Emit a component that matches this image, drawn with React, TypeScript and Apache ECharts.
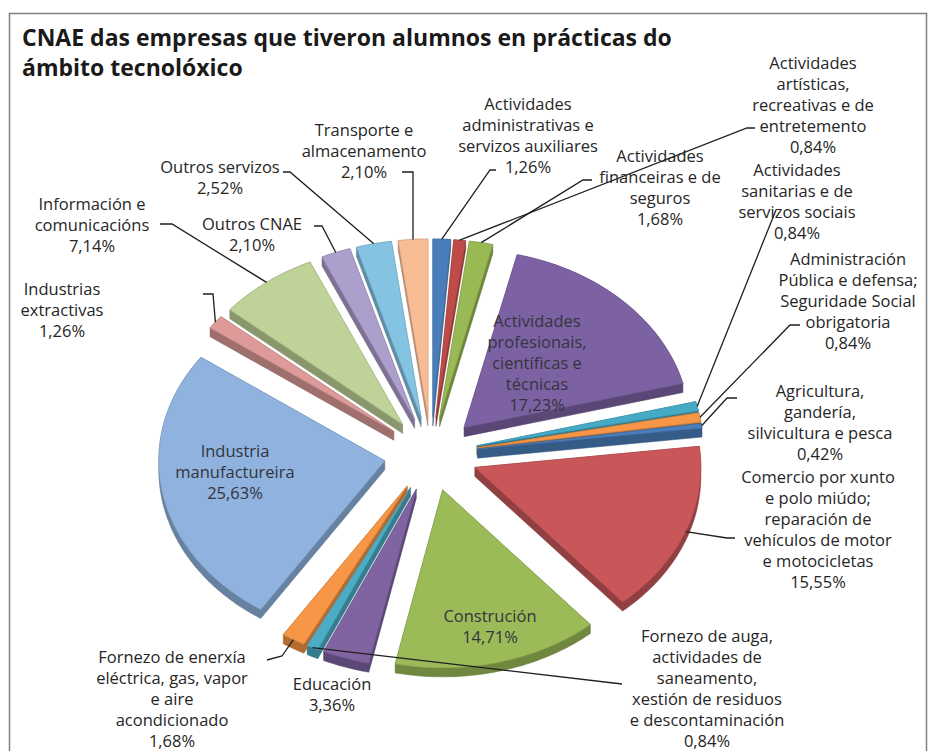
import React, { useEffect, useRef } from "react";
import * as echarts from "echarts";

// ---- data ----
const categories = [
  "Actividades administrativas e servizos auxiliares",
  "Actividades artísticas, recreativas e de entretemento",
  "Actividades financeiras e de seguros",
  "Actividades profesionais, científicas e técnicas",
  "Actividades sanitarias e de servizos sociais",
  "Administración Pública e defensa; Seguridade Social obrigatoria",
  "Agricultura, gandería, silvicultura e pesca",
  "Comercio por xunto e polo miúdo; reparación de vehículos de motor e motocicletas",
  "Construción",
  "Educación",
  "Fornezo de auga, actividades de saneamento, xestión de residuos e descontaminación",
  "Fornezo de enerxía eléctrica, gas, vapor e aire acondicionado",
  "Industria manufactureira",
  "Industrias extractivas",
  "Información e comunicacións",
  "Outros CNAE",
  "Outros servizos",
  "Transporte e almacenamento",
];
const shares = [1.26, 0.84, 1.68, 17.23, 0.84, 0.84, 0.42, 15.55, 14.71, 3.36, 0.84, 1.68, 25.63, 1.26, 7.14, 2.1, 2.52, 2.1];

// ---- styles / layout ----
const colors = [
  "#4a7ebb", "#be4b48", "#98b954", "#7d62a3", "#46aac5", "#f79646",
  "#4a7ebb", "#c9575a", "#9bbb59", "#8064a2", "#4bacc6", "#f79646",
  "#8fb3de", "#dd9a98", "#bfd297", "#ad9fcc", "#84c4e2", "#f9bd96",
];
const labelLines = [
  ["Actividades", "administrativas e", "servizos auxiliares"],
  ["Actividades", "artísticas,", "recreativas e de", "entretemento"],
  ["Actividades", "financeiras e de", "seguros"],
  ["Actividades", "profesionais,", "científicas e", "técnicas"],
  ["Actividades", "sanitarias e de", "servizos sociais"],
  ["Administración", "Pública e defensa;", "Seguridade Social", "obrigatoria"],
  ["Agricultura,", "gandería,", "silvicultura e pesca"],
  ["Comercio por xunto", "e polo miúdo;", "reparación de", "vehículos de motor", "e motocicletas"],
  ["Construción"],
  ["Educación"],
  ["Fornezo de auga,", "actividades de", "saneamento,", "xestión de residuos", "e descontaminación"],
  ["Fornezo de enerxía", "eléctrica, gas, vapor", "e aire", "acondicionado"],
  ["Industria", "manufactureira"],
  ["Industrias", "extractivas"],
  ["Información e", "comunicacións"],
  ["Outros CNAE"],
  ["Outros servizos"],
  ["Transporte e", "almacenamento"],
];
// [center x, first line center y]
const labelPos = [
  [528, 103], [813, 62], [660, 155], [537, 320], [797, 169], [848, 258],
  [820, 390], [818, 476], [490, 615], [332, 683], [707, 635], [172, 656],
  [235, 450], [62, 288], [92, 203], [252, 223], [220, 166], [364, 129],
];
const insideLabel = [false, false, false, true, false, false, false, false, true, false, false, false, true, false, false, false, false, false];
const leaderWaypoints: (number[][] | null)[] = [
  [[490, 170], [496, 170]],
  [[747, 128], [755, 128]],
  [[583, 180], [592, 180]],
  null,
  [[776, 210]],
  [[790, 325], [800, 325]],
  [[727, 398], [737, 398]],
  [[727, 538], [735, 538]],
  null,
  null,
  [[622, 684]],
  [[282, 656], [267, 660]],
  null,
  [[213, 294], [203, 294]],
  [[172, 224], [160, 224]],
  [[322, 226], [314, 226]],
  [[290, 172], [283, 172]],
  [[413, 172], [402, 172]],
];

const CX = 431, CY = 454, RX = 226, RY = 178, EXPLODE = 47, DEPTH = 9;
const K = RY / RX;
const LH = 21;
const FONT = "'Open Sans', 'DejaVu Sans', sans-serif";

const fmt = (v: number) => v.toFixed(2).replace(".", ",") + "%";

function darken(hex: string, f: number) {
  const n = parseInt(hex.slice(1), 16);
  const r = Math.round(((n >> 16) & 255) * f);
  const g = Math.round(((n >> 8) & 255) * f);
  const b = Math.round((n & 255) * f);
  return `rgb(${r},${g},${b})`;
}

function sliceGeom(i: number) {
  const total = shares.reduce((a, b) => a + b, 0);
  let start = 0;
  for (let j = 0; j < i; j++) start += shares[j];
  const a0 = (start / total) * Math.PI * 2;
  const a1 = ((start + shares[i]) / total) * Math.PI * 2;
  const m = (a0 + a1) / 2;
  const tx = CX + EXPLODE * Math.sin(m);
  const ty = CY - EXPLODE * K * Math.cos(m);
  const pts: number[][] = [[tx, ty]];
  const n = Math.max(2, Math.ceil((a1 - a0) / (Math.PI / 180)));
  for (let s = 0; s <= n; s++) {
    const a = a0 + ((a1 - a0) * s) / n;
    pts.push([tx + RX * Math.sin(a), ty - RY * Math.cos(a)]);
  }
  const anchor = [tx + RX * Math.sin(m), ty - RY * Math.cos(m)];
  return { pts, anchor };
}

function hull(points: number[][]) {
  const p = points.slice().sort((a, b) => (a[0] - b[0]) || (a[1] - b[1]));
  const cross = (o: number[], a: number[], b: number[]) =>
    (a[0] - o[0]) * (b[1] - o[1]) - (a[1] - o[1]) * (b[0] - o[0]);
  const lower: number[][] = [];
  for (const q of p) {
    while (lower.length >= 2 && cross(lower[lower.length - 2], lower[lower.length - 1], q) <= 0) lower.pop();
    lower.push(q);
  }
  const upper: number[][] = [];
  for (let i = p.length - 1; i >= 0; i--) {
    const q = p[i];
    while (upper.length >= 2 && cross(upper[upper.length - 2], upper[upper.length - 1], q) <= 0) upper.pop();
    upper.push(q);
  }
  upper.pop();
  lower.pop();
  return lower.concat(upper);
}

export default function App() {
  const ref = useRef<HTMLDivElement>(null);
  useEffect(() => {
    if (!ref.current) return;
    const chart = echarts.init(ref.current, undefined, { renderer: "svg" });

    const graphics: any[] = [
      {
        type: "rect",
        shape: { x: 9.5, y: 13.5, width: 917, height: 760 },
        style: { fill: "none", stroke: "#7d8088", lineWidth: 1.5 },
        z: 0,
      },
    ];
    shares.forEach((v, i) => {
      const g = sliceGeom(i);
      const wp = leaderWaypoints[i];
      if (wp) {
        graphics.push({
          type: "polyline",
          shape: { points: [g.anchor, ...wp] },
          style: { stroke: "#1f1f1f", lineWidth: 1.3, fill: null },
          z: 20,
        });
      }
      const lines = labelLines[i].concat([fmt(v)]);
      graphics.push({
        type: "text",
        x: labelPos[i][0],
        y: labelPos[i][1] - LH / 2,
        z: 21,
        style: {
          text: lines.join("\n"),
          fill: insideLabel[i] ? "#34343c" : "#262626",
          fontSize: 16.5,
          fontFamily: FONT,
          lineHeight: LH,
          align: "center",
          verticalAlign: "top",
          textAlign: "center",
          textVerticalAlign: "top",
        },
      });
    });

    chart.setOption({
      animation: false,
      title: {
        text: "CNAE das empresas que tiveron alumnos en prácticas do\námbito tecnolóxico",
        left: 17,
        top: 17,
        textStyle: {
          fontFamily: FONT,
          fontWeight: "bold",
          fontSize: 23,
          lineHeight: 30,
          color: "#1a1a1a",
        },
      },
      series: [
        {
          type: "custom",
          name: "sides",
          coordinateSystem: "none",
          z: 2,
          data: shares,
          silent: true,
          renderItem: (params: any) => {
            const i = params.dataIndex;
            const g = sliceGeom(i);
            const both = g.pts.concat(g.pts.map((p) => [p[0], p[1] + DEPTH]));
            return {
              type: "polygon",
              shape: { points: hull(both) },
              style: { fill: darken(colors[i], 0.72), stroke: darken(colors[i], 0.65), lineWidth: 0.5 },
            };
          },
        },
        {
          type: "custom",
          name: "CNAE",
          coordinateSystem: "none",
          z: 3,
          data: shares,
          silent: true,
          renderItem: (params: any) => {
            const i = params.dataIndex;
            const g = sliceGeom(i);
            return {
              type: "polygon",
              shape: { points: g.pts },
              style: { fill: colors[i], stroke: darken(colors[i], 0.9), lineWidth: 0.6 },
            };
          },
        },
      ],
      graphic: graphics,
    });
    return () => chart.dispose();
  }, []);
  return (
    <div
      ref={ref}
      style={{ position: "fixed", left: 0, top: 0, width: 929, height: 751, background: "#ffffff" }}
    />
  );
}
